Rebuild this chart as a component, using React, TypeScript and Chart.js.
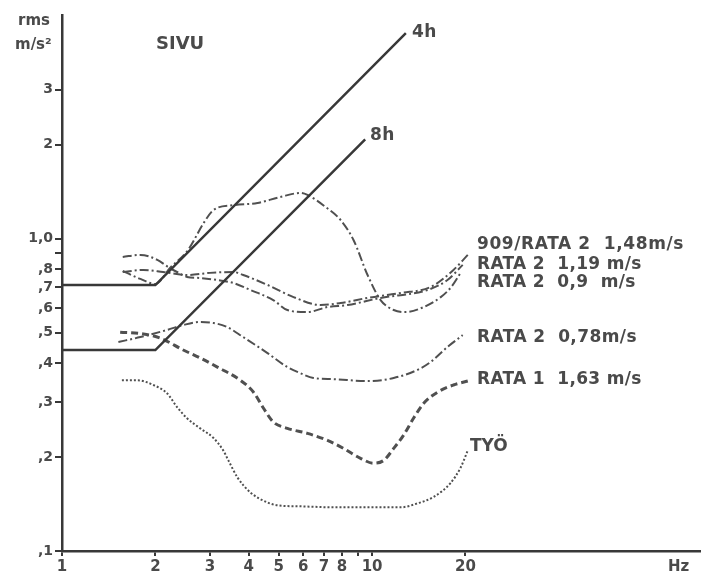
import React, { useEffect, useRef } from 'react';
import { Chart, registerables } from 'chart.js';

Chart.register(...registerables);

// ---- axis ticks ----
const X_TICKS = [1, 2, 3, 4, 5, 6, 7, 8, 9, 10, 20];
const X_TICK_LABELS = ['1', '2', '3', '4', '5', '6', '7', '8', '', '10', '20'];
const Y_TICKS = [0.1, 0.2, 0.3, 0.4, 0.5, 0.6, 0.7, 0.8, 0.9, 1, 2, 3];
const Y_TICK_LABELS = [',1', ',2', ',3', ',4', ',5', ',6', ',7', ',8', '', '1,0', '2', '3'];

// ---- limit lines (Hz, m/s2) ----
const LIMIT_4H_F = [1, 2, 12.85];
const LIMIT_4H_A = [0.71, 0.71, 4.55];
const LIMIT_8H_F = [1, 2, 9.5];
const LIMIT_8H_A = [0.44, 0.44, 2.08];

// ---- measured curves ----
const R909_F = [1.57, 1.79, 2.0, 2.23, 2.55, 2.86, 3.08, 3.57, 4.27, 5.06, 5.87, 6.19, 7.07, 7.91, 8.71, 9.67, 10.65, 11.74, 12.83, 14.67, 16.65, 18.0, 19.3];
const R909_A = [0.788, 0.743, 0.716, 0.806, 0.92, 1.12, 1.235, 1.28, 1.3, 1.36, 1.4, 1.38, 1.264, 1.148, 0.99, 0.765, 0.636, 0.591, 0.582, 0.604, 0.65, 0.7, 0.777];

const R119_F = [1.57, 1.79, 2.03, 2.2, 2.35, 2.53, 2.79, 3.17, 3.57, 4.05, 4.8, 5.33, 6.19, 7.18, 8.33, 10.65, 15.1, 17.5, 19.6];
const R119_A = [0.874, 0.887, 0.855, 0.811, 0.782, 0.754, 0.748, 0.737, 0.721, 0.685, 0.636, 0.591, 0.582, 0.604, 0.613, 0.646, 0.685, 0.737, 0.824];

const R09_F = [1.57, 1.83, 2.12, 2.53, 3.0, 3.57, 3.84, 4.6, 5.58, 6.82, 7.91, 9.67, 12.36, 15.45, 18.3, 20.35];
const R09_A = [0.782, 0.794, 0.782, 0.765, 0.777, 0.782, 0.765, 0.711, 0.65, 0.613, 0.622, 0.646, 0.67, 0.7, 0.794, 0.887];

const R078_F = [1.52, 1.79, 2.18, 2.46, 2.79, 3.08, 3.41, 3.84, 4.6, 5.33, 5.87, 6.47, 7.51, 9.67, 11.74, 14.0, 15.45, 17.5, 19.6];
const R078_A = [0.467, 0.484, 0.51, 0.529, 0.541, 0.537, 0.521, 0.484, 0.43, 0.388, 0.371, 0.358, 0.355, 0.35, 0.358, 0.38, 0.403, 0.45, 0.491];

const R1_F = [1.54, 1.83, 2.07, 2.46, 2.79, 3.17, 3.76, 4.14, 4.46, 4.8, 5.33, 6.19, 7.18, 8.09, 9.18, 10.1, 10.9, 11.74, 12.64, 13.6, 14.67, 16.3, 18.3, 20.35];
const R1_A = [0.502, 0.495, 0.481, 0.44, 0.415, 0.388, 0.352, 0.323, 0.287, 0.259, 0.247, 0.238, 0.226, 0.213, 0.198, 0.191, 0.195, 0.213, 0.235, 0.266, 0.297, 0.323, 0.34, 0.35];

const TYO_F = [1.56, 1.75, 1.97, 2.18, 2.35, 2.53, 2.79, 3.08, 3.31, 3.44, 3.68, 4.05, 4.6, 4.95, 5.87, 7.51, 9.67, 12.36, 14.0, 15.8, 17.9, 19.3, 20.35];
const TYO_A = [0.352, 0.352, 0.34, 0.32, 0.289, 0.266, 0.247, 0.23, 0.21, 0.195, 0.172, 0.154, 0.143, 0.14, 0.139, 0.138, 0.138, 0.138, 0.142, 0.149, 0.165, 0.185, 0.21];

// ---- texts (layout) ----
const TEXTS = [
  { text: 'rms', x: 18, y: 21, size: 15, sp: 0 },
  { text: 'm/s²', x: 15, y: 45, size: 15, sp: 0 },
  { text: 'SIVU', x: 156, y: 44, size: 18, sp: 0 },
  { text: '4h', x: 412, y: 33, size: 17, sp: 0.5 },
  { text: '8h', x: 370, y: 136, size: 17, sp: 0.5 },
  { text: '909/RATA 2  1,48m/s', x: 477, y: 245, size: 17, sp: 0.6 },
  { text: 'RATA 2  1,19 m/s', x: 477, y: 265, size: 17, sp: 0.3 },
  { text: 'RATA 2  0,9  m/s', x: 477, y: 283, size: 17, sp: 0.3 },
  { text: 'RATA 2  0,78m/s', x: 477, y: 338, size: 17, sp: 0.4 },
  { text: 'RATA 1  1,63 m/s', x: 477, y: 380, size: 17, sp: 0.3 },
  { text: 'TYÖ', x: 470, y: 447, size: 17, sp: 0 },
  { text: 'Hz', x: 668, y: 567, size: 15, sp: 0 },
];

const INK = '#383838';
const CURVE = '#505050';
const TEXT = '#4a4a4a';

const pts = (f: number[], a: number[]) => f.map((x, i) => ({ x, y: a[i] }));

const textPlugin = {
  id: 'texts',
  afterDraw(chart: any) {
    const ctx = chart.ctx;
    ctx.save();
    ctx.fillStyle = TEXT;
    ctx.textBaseline = 'middle';
    ctx.textAlign = 'left';
    for (const t of TEXTS) {
      ctx.font = `bold ${t.size}px "DejaVu Sans", sans-serif`;
      try { (ctx as any).letterSpacing = `${t.sp}px`; } catch (e) {}
      ctx.fillText(t.text, t.x, t.y);
    }
    ctx.restore();
  },
};

export default function App() {
  const ref = useRef<HTMLCanvasElement>(null);
  useEffect(() => {
    if (!ref.current) return;
    const dashDot = [9, 3, 2, 3];
    const chart = new Chart(ref.current, {
      type: 'line',
      data: {
        datasets: [
          { label: '4h', data: pts(LIMIT_4H_F, LIMIT_4H_A), borderColor: INK, borderWidth: 2.5, tension: 0, pointRadius: 0 },
          { label: '8h', data: pts(LIMIT_8H_F, LIMIT_8H_A), borderColor: INK, borderWidth: 2.5, tension: 0, pointRadius: 0 },
          { label: '909/RATA 2 1,48m/s', data: pts(R909_F, R909_A), borderColor: CURVE, borderWidth: 2, borderDash: dashDot, cubicInterpolationMode: 'monotone', pointRadius: 0 },
          { label: 'RATA 2 1,19 m/s', data: pts(R119_F, R119_A), borderColor: CURVE, borderWidth: 2, borderDash: dashDot, cubicInterpolationMode: 'monotone', pointRadius: 0 },
          { label: 'RATA 2 0,9 m/s', data: pts(R09_F, R09_A), borderColor: CURVE, borderWidth: 2, borderDash: dashDot, cubicInterpolationMode: 'monotone', pointRadius: 0 },
          { label: 'RATA 2 0,78m/s', data: pts(R078_F, R078_A), borderColor: CURVE, borderWidth: 2, borderDash: dashDot, cubicInterpolationMode: 'monotone', pointRadius: 0 },
          { label: 'RATA 1 1,63 m/s', data: pts(R1_F, R1_A), borderColor: CURVE, borderWidth: 3, borderDash: [7, 4], cubicInterpolationMode: 'monotone', pointRadius: 0 },
          { label: 'TYÖ', data: pts(TYO_F, TYO_A), borderColor: CURVE, borderWidth: 2, borderDash: [2, 2], cubicInterpolationMode: 'monotone', pointRadius: 0 },
        ] as any,
      },
      options: {
        animation: false,
        responsive: false,
        devicePixelRatio: 1,
        parsing: false as any,
        layout: { padding: { top: 15, right: 0, left: 0, bottom: 0 } },
        plugins: { legend: { display: false }, tooltip: { enabled: false }, title: { display: false } },
        scales: {
          x: {
            type: 'logarithmic',
            min: 1,
            max: 115,
            position: 'bottom',
            afterBuildTicks: (s: any) => { s.ticks = X_TICKS.map((v) => ({ value: v })); },
            afterFit: (s: any) => { s.height = 30; },
            ticks: {
              autoSkip: false,
              maxRotation: 0,
              padding: 2,
              color: TEXT,
              font: { family: '"DejaVu Sans", sans-serif', weight: 'bold', size: 15 },
              callback: (_v: any, i: number) => X_TICK_LABELS[i],
            },
            grid: { drawOnChartArea: false, drawTicks: true, tickLength: 5, color: INK, lineWidth: 2 },
            border: { display: true, color: INK, width: 2.5 },
          },
          y: {
            type: 'logarithmic',
            min: 0.1,
            max: 5.2,
            position: 'left',
            afterBuildTicks: (s: any) => { s.ticks = Y_TICKS.map((v) => ({ value: v })); },
            afterFit: (s: any) => { s.width = 62; },
            ticks: {
              autoSkip: false,
              padding: 2,
              color: TEXT,
              font: { family: '"DejaVu Sans", sans-serif', weight: 'bold', size: 14 },
              callback: (_v: any, i: number) => Y_TICK_LABELS[i],
            },
            grid: { drawOnChartArea: false, drawTicks: true, tickLength: 7, color: INK, lineWidth: 2 },
            border: { display: true, color: INK, width: 2.5 },
          },
        },
      } as any,
      plugins: [textPlugin],
    });
    return () => chart.destroy();
  }, []);
  return (
    <div style={{ position: 'fixed', left: 0, top: 0, width: 701, height: 581, background: '#fff' }}>
      <canvas ref={ref} width={701} height={581} />
    </div>
  );
}
